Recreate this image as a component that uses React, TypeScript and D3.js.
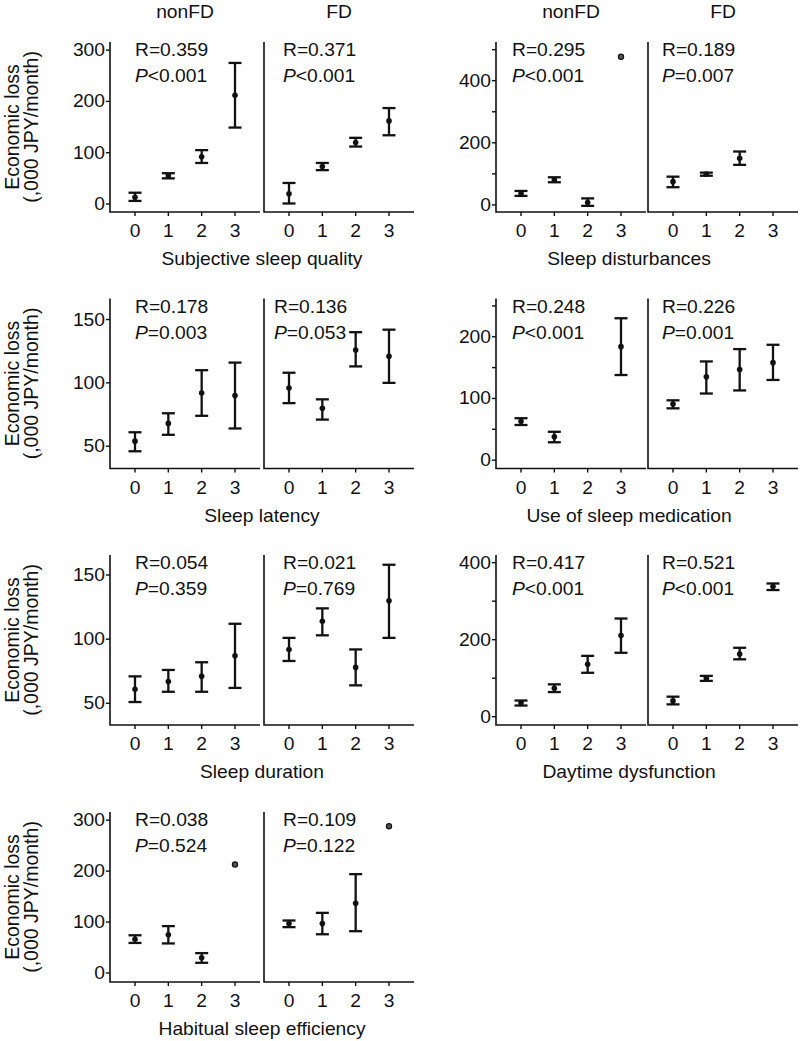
import React from 'react';
import * as d3 from 'd3';

// each point: [mean, lower, upper]; [mean] = single value, null = no subjects
type Pt = number[] | null;

const categories = [0, 1, 2, 3];
const groups = ['nonFD', 'FD'];

const qualityNonFD: Pt[] = [[13, 6, 22], [55, 50, 60], [92, 80, 105], [212, 149, 275]];
const qualityFD: Pt[] = [[20, 1, 41], [73, 66, 80], [120, 112, 129], [162, 134, 187]];
const disturbNonFD: Pt[] = [[37, 29, 45], [81, 73, 89], [8, -3, 21], [477]];
const disturbFD: Pt[] = [[75, 57, 91], [99, 94, 104], [150, 129, 172], null];
const latencyNonFD: Pt[] = [[54, 46, 61], [68, 59, 76], [92, 74, 110], [90, 64, 116]];
const latencyFD: Pt[] = [[96, 84, 108], [80, 71, 87], [126, 113, 140], [121, 100, 142]];
const medicationNonFD: Pt[] = [[63, 57, 68], [38, 29, 46], null, [184, 138, 230]];
const medicationFD: Pt[] = [[91, 84, 97], [135, 108, 160], [147, 113, 180], [158, 130, 187]];
const durationNonFD: Pt[] = [[61, 51, 71], [67, 59, 76], [71, 59, 82], [87, 62, 112]];
const durationFD: Pt[] = [[92, 83, 101], [114, 103, 124], [78, 64, 92], [130, 101, 158]];
const daytimeNonFD: Pt[] = [[36, 29, 42], [74, 64, 84], [136, 114, 158], [211, 166, 255]];
const daytimeFD: Pt[] = [[41, 32, 52], [100, 93, 106], [163, 149, 179], [338, 329, 346]];
const efficiencyNonFD: Pt[] = [[66, 59, 74], [75, 58, 92], [30, 20, 39], [213]];
const efficiencyFD: Pt[] = [[97, 90, 103], [97, 76, 118], [137, 82, 194], [288]];

const componentNames = [
  'Subjective sleep quality', 'Sleep disturbances',
  'Sleep latency', 'Use of sleep medication',
  'Sleep duration', 'Daytime dysfunction',
  'Habitual sleep efficiency',
];
const seriesNonFD = [qualityNonFD, disturbNonFD, latencyNonFD, medicationNonFD, durationNonFD, daytimeNonFD, efficiencyNonFD];
const seriesFD = [qualityFD, disturbFD, latencyFD, medicationFD, durationFD, daytimeFD, efficiencyFD];

const rNonFD = ['0.359', '0.295', '0.178', '0.248', '0.054', '0.417', '0.038'];
const rFD = ['0.371', '0.189', '0.136', '0.226', '0.021', '0.521', '0.109'];
const pNonFD = ['<0.001', '<0.001', '=0.003', '<0.001', '=0.359', '<0.001', '=0.524'];
const pFD = ['<0.001', '=0.007', '=0.053', '=0.001', '=0.769', '<0.001', '=0.122'];

const yDomains = [[-15.6, 315.8], [-22.8, 524.6], [32.4, 166.6], [-13.5, 262], [33.1, 165.6], [-21.6, 420], [-17.7, 316]];
const yLabelTicks = [[0, 100, 200, 300], [0, 200, 400], [50, 100, 150], [0, 100, 200], [50, 100, 150], [0, 200, 400], [0, 100, 200, 300]];
const yOtherTicks = [[], [100, 300, 500], [], [50, 150, 250], [], [100, 300], []];

const yTitle1 = 'Economic loss';
const yTitle2 = '(,000 JPY/month)';

// layout
const W = 800;
const H = 1041;
const FONT = '"Liberation Sans", Arial, Helvetica, sans-serif';
const FS = 17.5;
const SX = 1.1;
const subW = 150;
const panelH = 170;
const rowTops = [42, 298.5, 555, 812];
const colLeft = [[110, 264], [496, 648]];
const colTitleX = [262, 629];
const annotDx = [[25, 19], [16, 14], [25, 10], [16, 14], [25, 19], [16, 14], [25, 19]];

const HText = ({ x, y, anchor = 'start', size = FS, children }: any) => (
  <text transform={`translate(${x},${y}) scale(${SX},1)`} textAnchor={anchor} fontSize={size} fill="#111">
    {children}
  </text>
);

const SubPanel = ({ left, top, data, yScale, showY, labelTicks, otherTicks, r, p, dx, title }: any) => {
  const x = d3.scaleLinear().domain([-0.75, 3.75]).range([left, left + subW]);
  const bottom = top + panelH;
  return (
    <g>
      {title && <HText x={left + subW / 2} y={18} anchor="middle">{title}</HText>}
      <path d={`M${left},${top}V${bottom}H${left + subW}`} fill="none" stroke="#111" strokeWidth={1.6} />
      {categories.map((c) => (
        <g key={c}>
          <line x1={x(c)} x2={x(c)} y1={bottom} y2={bottom + 4} stroke="#111" strokeWidth={1.4} />
          <HText x={x(c)} y={bottom + 25} anchor="middle">{c}</HText>
        </g>
      ))}
      {showY && labelTicks.concat(otherTicks).map((t: number) => (
        <line key={'t' + t} x1={left - 4} x2={left} y1={yScale(t)} y2={yScale(t)} stroke="#111" strokeWidth={1.4} />
      ))}
      {showY && labelTicks.map((t: number) => (
        <HText key={'l' + t} x={left - 5} y={yScale(t) + 6} anchor="end">{t}</HText>
      ))}
      {data.map((d: Pt, i: number) => {
        if (!d) return null;
        const cx = x(categories[i]);
        if (d.length === 1) {
          return <circle key={i} cx={cx} cy={yScale(d[0])} r={2.6} fill="#555" stroke="#111" strokeWidth={1.2} />;
        }
        const y0 = yScale(d[1]);
        const y1 = yScale(d[2]);
        return (
          <g key={i} stroke="#111" strokeWidth={2.3}>
            <line x1={cx} x2={cx} y1={y0} y2={y1} />
            <line x1={cx - 6.5} x2={cx + 6.5} y1={y0} y2={y0} />
            <line x1={cx - 6.5} x2={cx + 6.5} y1={y1} y2={y1} />
            <circle cx={cx} cy={yScale(d[0])} r={2.8} fill="#111" stroke="none" />
          </g>
        );
      })}
      <HText x={left + dx} y={top + 14}>{`R${r.startsWith('=') ? r : '=' + r}`}</HText>
      <HText x={left + dx} y={top + 40}>
        <tspan fontStyle="italic">P</tspan>
        <tspan>{p}</tspan>
      </HText>
    </g>
  );
};

export default function App() {
  return (
    <svg width={W} height={H} style={{ position: 'absolute', left: 0, top: 0, background: '#fff' }} fontFamily={FONT}>
      <rect width={W} height={H} fill="#fff" />
      {componentNames.map((name, k) => {
        const row = Math.floor(k / 2);
        const col = k % 2;
        const top = rowTops[row];
        const yScale = d3.scaleLinear().domain(yDomains[k]).range([top + panelH, top]);
        const midY = top + panelH / 2;
        return (
          <g key={name}>
            {col === 0 && (
              <g>
                <text transform={`translate(19,${midY}) rotate(-90)`} textAnchor="middle" fontSize={19.5} fill="#111">{yTitle1}</text>
                <text transform={`translate(38,${midY}) rotate(-90)`} textAnchor="middle" fontSize={19.5} fill="#111">{yTitle2}</text>
              </g>
            )}
            {groups.map((g, gi) => (
              <SubPanel
                key={g}
                left={colLeft[col][gi]}
                top={top}
                data={gi === 0 ? seriesNonFD[k] : seriesFD[k]}
                yScale={yScale}
                showY={gi === 0}
                labelTicks={yLabelTicks[k]}
                otherTicks={yOtherTicks[k]}
                r={gi === 0 ? rNonFD[k] : rFD[k]}
                p={gi === 0 ? pNonFD[k] : pFD[k]}
                dx={annotDx[k][gi]}
                title={row === 0 ? g : null}
              />
            ))}
            <HText x={colTitleX[col]} y={top + panelH + 53} anchor="middle">{name}</HText>
          </g>
        );
      })}
    </svg>
  );
}
